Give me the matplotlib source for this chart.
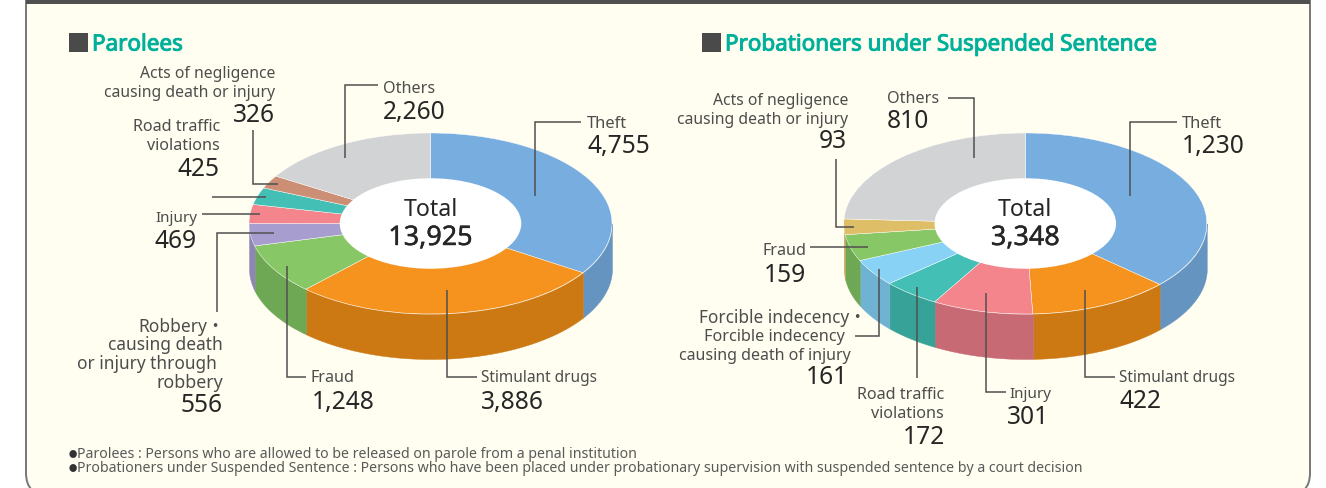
import matplotlib
matplotlib.use("Agg")
import matplotlib.pyplot as plt
import matplotlib.patheffects as pe
import numpy as np
from matplotlib.patches import Circle, FancyBboxPatch, Rectangle

plt.rcParams['font.family'] = ['Noto Sans', 'Noto Sans CJK JP', 'DejaVu Sans']

W, H = 1326, 488

# data, clockwise from 12 o'clock
parolee_cats = ["Theft", "Stimulant drugs", "Fraud", "Robbery", "Injury",
                "Road traffic violations", "Acts of negligence", "Others"]
parolee_vals = [4755, 3886, 1248, 556, 469, 425, 326, 2260]
parolee_total = "13,925"

prob_cats = ["Theft", "Stimulant drugs", "Injury", "Road traffic violations",
             "Forcible indecency", "Fraud", "Acts of negligence", "Others"]
prob_vals = [1230, 422, 301, 172, 161, 159, 93, 810]
prob_total = "3,348"

# top colour, wall colour
parolee_top = ["#78ADDF", "#F6921E", "#88C765", "#A79ECF", "#F4858C", "#43BFB5", "#CC8E74", "#D1D3D4"]
parolee_wall = ["#6494BF", "#CC7813", "#6EA855", "#8D86B3", "#C76A74", "#37A398", "#AA765F", "#B0B2B3"]
prob_top = ["#78ADDF", "#F6921E", "#F4858C", "#43BFB5", "#88D3F5", "#88C765", "#DEBF68", "#D1D3D4"]
prob_wall = ["#6494BF", "#CC7813", "#C76A74", "#37A398", "#70B2D2", "#6EA855", "#BFA558", "#B0B2B3"]

CREAM = "#FFFEF0"
LINE = "#505050"
LABEL = "#4D4D4D"
NUM = "#262626"


def draw_pie(fig, cx, vals, top, wall):
    a, b, depth, cy = 181.5, 90.5, 45, 223.5
    rect = [(cx - a) / W, 1 - (cy + b + depth) / H, 2 * a / W, (2 * b + depth) / H]
    ax = fig.add_axes(rect, zorder=2)
    ax.pie(vals, colors=top, startangle=90, counterclock=False, radius=1,
           wedgeprops=dict(edgecolor="#FFFFFF", linewidth=0.3))
    ax.set_aspect("auto")
    ax.set_xlim(-1, 1)
    ax.set_ylim(-1 - depth / b, 1)
    ax.axis("off")

    # side wall of the disc, only the front half shows
    edges = np.cumsum([0] + list(vals)) / sum(vals) * 360
    for t0, t1, c in zip(edges[:-1], edges[1:], wall):
        lo, hi = max(t0, 90), min(t1, 270)
        if lo >= hi:
            continue
        t = np.radians(np.linspace(lo, hi, 80))
        ax.fill_between(np.sin(t), np.cos(t), np.cos(t) - depth / b, color=c,
                        linewidth=0.3, zorder=0.5)

    ax.add_patch(Circle((0, 0), 0.5, facecolor="white", edgecolor="none", zorder=3))
    return ax


fig = plt.figure(figsize=(W / 100, H / 100), dpi=100, facecolor="white")

# overlay in pixel coordinates for panel, leaders and text
bg = fig.add_axes([0, 0, 1, 1], zorder=1)
bg.set_xlim(0, W)
bg.set_ylim(H, 0)
bg.axis("off")
bg.add_patch(FancyBboxPatch((26, -20), 1284, 515, boxstyle="round,pad=0,rounding_size=22",
                            facecolor=CREAM, edgecolor="#777777", linewidth=1.4))
bg.add_patch(Rectangle((26, 0), 1284, 3.5, facecolor="#505050", edgecolor="none"))

draw_pie(fig, 430.5, parolee_vals, parolee_top, parolee_wall)
draw_pie(fig, 1025.3, prob_vals, prob_top, prob_wall)

ov = fig.add_axes([0, 0, 1, 1], zorder=3)
ov.patch.set_alpha(0)
ov.set_xlim(0, W)
ov.set_ylim(H, 0)
ov.axis("off")

leaders = [
    [(534.5, 196), (534.5, 122), (581, 122)],
    [(345, 158), (345, 85), (378, 85)],
    [(253, 130), (253, 184), (278, 184)],
    [(212, 197), (266, 197)],
    [(202, 214), (260, 214)],
    [(217, 312), (217, 233), (274, 233)],
    [(287, 266), (287, 377), (306, 377)],
    [(447, 290), (447, 377), (477, 377)],
    [(1130, 196), (1130, 122), (1177, 122)],
    [(974, 158), (974, 98), (948, 98)],
    [(836, 159), (836, 227), (854, 227)],
    [(810, 247), (868, 247)],
    [(879, 269), (879, 336), (855, 336)],
    [(917, 287), (917, 378)],
    [(986, 293), (986, 392), (1006, 392)],
    [(1085, 290), (1085, 377), (1115, 377)],
]
for pts in leaders:
    xs, ys = zip(*pts)
    ov.plot(xs, ys, color=LINE, lw=1.1, solid_joinstyle="miter", solid_capstyle="butt")

# text, x, y, horizontal anchor, size
labels = [
    ("Others", 383, 87, "left", 11.6),
    ("Theft", 587, 122, "left", 11.9),
    ("Acts of negligence", 275, 72, "right", 11.3),
    ("causing death or injury", 275, 91, "right", 11.3),
    ("Road traffic", 220, 125, "right", 11.6),
    ("violations", 220, 144, "right", 11.6),
    ("Injury", 197, 217, "right", 11.0),
    ("Robbery・", 225, 325, "right", 12.5),
    ("causing death", 223, 343, "right", 12.5),
    ("or injury through", 217, 362, "right", 12.4),
    ("robbery", 223, 381, "right", 12.8),
    ("Fraud", 311, 376, "left", 11.6),
    ("Stimulant drugs", 481, 376, "left", 11.1),
    ("Others", 887, 97, "left", 11.6),
    ("Theft", 1182, 122, "left", 11.9),
    ("Acts of negligence", 848, 99, "right", 11.3),
    ("causing death or injury", 848, 118, "right", 11.3),
    ("Fraud", 806, 249, "right", 11.6),
    ("Forcible indecency・", 866, 316, "right", 12.4),
    ("Forcible indecency", 845, 335, "right", 11.7),
    ("causing death of injury", 851, 354, "right", 11.5),
    ("Road traffic", 944, 393, "right", 11.6),
    ("violations", 944, 412, "right", 11.6),
    ("Injury", 1051, 393, "right", 11.0),
    ("Stimulant drugs", 1119, 376, "left", 11.1),
]
numbers = [
    ("2,260", 383, 110, "left"),
    ("4,755", 587, 144, "left"),
    ("326", 275, 113, "right"),
    ("425", 220, 167, "right"),
    ("469", 197, 240, "right"),
    ("556", 223, 404, "right"),
    ("1,248", 312, 400, "left"),
    ("3,886", 481, 400, "left"),
    ("810", 887, 119, "left"),
    ("1,230", 1182, 144, "left"),
    ("93", 847, 140, "right"),
    ("159", 806, 273, "right"),
    ("161", 848, 376, "right"),
    ("172", 945, 435, "right"),
    ("301", 1049, 416, "right"),
    ("422", 1119, 400, "left"),
]
for s, x, y, ha, size in labels:
    ov.text(x, y + 2, s, ha=ha, va="center", fontsize=size, color=LABEL)
for s, x, y, ha in numbers:
    ov.text(x, y + 2, s, ha=ha, va="center", fontsize=17.7, color=NUM)

heavy = [pe.withStroke(linewidth=0.3, foreground=NUM)]
for cx, total in [(430.5, parolee_total), (1025.3, prob_total)]:
    ov.text(cx, 210, "Total", ha="center", va="center", fontsize=16.7, color=NUM)
    ov.text(cx, 238, total, ha="center", va="center", fontsize=19.4, color=NUM, path_effects=heavy)

# headings
for x0, title in [(69, "Parolees"), (702, "Probationers under Suspended Sentence")]:
    ov.add_patch(Rectangle((x0, 33), 19, 19, facecolor="#4A4A4A", edgecolor="none"))
    ov.text(x0 + 23, 50.5, title, ha="left", va="baseline", fontsize=16.15, color="#00B09B",
            path_effects=[pe.withStroke(linewidth=0.7, foreground="#00B09B")])

notes = [
    (455, "Parolees : Persons who are allowed to be released on parole from a penal institution"),
    (469, "Probationers under Suspended Sentence : Persons who have been placed under probationary "
          "supervision with suspended sentence by a court decision"),
]
for y, s in notes:
    ov.text(69, y, "●", ha="left", va="center", fontsize=6, color="#333333")
    ov.text(77, y, s, ha="left", va="center", fontsize=10.2, color="#5A5A5A")

fig.savefig("out.png", dpi=100, facecolor="white")
